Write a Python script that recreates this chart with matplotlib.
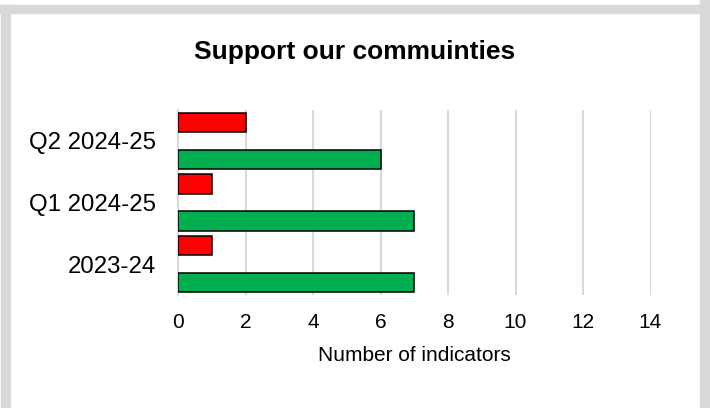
import matplotlib.pyplot as plt
from matplotlib.patches import Rectangle

plt.rcParams['font.family'] = ['Liberation Sans', 'DejaVu Sans']

categories = ['2023-24', 'Q1 2024-25', 'Q2 2024-25']
red_values = [1, 1, 2]
green_values = [7, 7, 6]
x_ticks = [0, 2, 4, 6, 8, 10, 12, 14]

W, H = 710, 408
fig = plt.figure(figsize=(W / 100, H / 100), dpi=100)

# grey frame round the chart area
grey = '#d9d9d9'
fig.patches.append(Rectangle((1 / W, 0), 9 / W, 403 / H, transform=fig.transFigure, color=grey, zorder=0))
fig.patches.append(Rectangle((0, 1 - 13 / H), 700 / W, 8 / H, transform=fig.transFigure, color=grey, zorder=0))
fig.patches.append(Rectangle((700 / W, 0), 10 / W, 1, transform=fig.transFigure, color=grey, zorder=0))

ax = fig.add_axes([178 / W, 1 - 295 / H, 472.5 / W, 185 / H])

pos = list(range(len(categories)))
ax.barh([p + 0.3 for p in pos], red_values, height=0.31, color='#ff0000',
        edgecolor='black', linewidth=1.1, zorder=3)
ax.barh([p - 0.3 for p in pos], green_values, height=0.31, color='#00b050',
        edgecolor='black', linewidth=1.1, zorder=3)

ax.set_xlim(0, 14)
ax.set_ylim(-0.5, 2.5)
ax.set_xticks(x_ticks)
ax.set_yticks(pos)
ax.set_yticklabels(categories)
ax.tick_params(axis='x', length=0, pad=13, labelsize=15)
ax.tick_params(axis='y', length=0, pad=16, labelsize=17.3)
ax.xaxis.grid(True, color=grey, linewidth=1.5, zorder=0)
ax.set_axisbelow(True)
for s in ['top', 'right', 'bottom']:
    ax.spines[s].set_visible(False)
ax.spines['left'].set_color(grey)
ax.spines['left'].set_linewidth(1.5)

ax.set_xlabel('Number of indicators', fontsize=15, labelpad=10)
fig.text(0.5, 1 - 58.5 / H, 'Support our commuinties', ha='center', va='baseline',
         fontsize=19, fontweight='bold')

fig.savefig('out.png', dpi=100)
